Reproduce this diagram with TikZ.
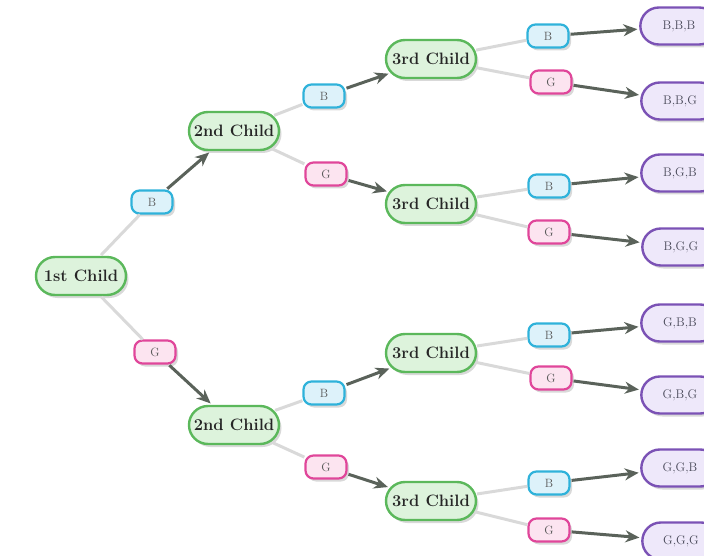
\documentclass[tikz,border=0pt]{standalone}
\usepackage{fontspec}
\usetikzlibrary{shapes.misc,shadows,arrows.meta}
\definecolor{gborder}{HTML}{5BB85B}
\definecolor{gfill}{HTML}{DDF3DC}
\definecolor{bborder}{HTML}{2FB2DA}
\definecolor{bfill}{HTML}{DDF2FA}
\definecolor{pborder}{HTML}{E0469A}
\definecolor{pfill}{HTML}{FCE4F0}
\definecolor{vborder}{HTML}{7B52B5}
\definecolor{vfill}{HTML}{EEE8FA}
\definecolor{arrowc}{HTML}{5A625A}
\definecolor{leafc}{HTML}{4A4A5A}
\tikzset{
  shad/.style={drop shadow={shadow xshift=2.5pt,shadow yshift=-3pt,opacity=0.3}},
  childbox/.style={rounded rectangle, draw=gborder, line width=2.4pt, fill=gfill, shad,
    minimum height=38pt, minimum width=96pt, inner xsep=3pt, text=black!85,
    font=\bfseries\fontsize{16.5}{16.5}\selectfont\addfontfeatures{LetterSpace=2}},
  bbox/.style={rectangle, rounded corners=8pt, draw=bborder, line width=2.2pt, fill=bfill, shad,
    minimum width=41pt, minimum height=23pt, font=\fontsize{12}{12}\selectfont, text=black!65},
  gbox/.style={bbox, draw=pborder, fill=pfill},
  leafbox/.style={rounded rectangle, draw=vborder, line width=2.4pt, fill=vfill, shad,
    minimum width=84pt, minimum height=37pt, font=\fontsize{12.5}{12.5}\selectfont, text=leafc},
  faint/.style={draw=black!15, line width=3pt, shorten <=1pt},
  arr/.style={draw=arrowc, line width=3pt, -{Stealth[length=14pt,width=12pt,inset=4.5pt]}, shorten <=1pt, shorten >=2pt}
}
\begin{document}
\begin{tikzpicture}[x=1pt,y=-1pt]
\useasboundingbox (0,0) rectangle (704,556);
% level nodes
\node[childbox] (c1) at (81,276) {1st Child};
\node[childbox] (c2a) at (234,131) {2nd Child};
\node[childbox] (c2b) at (234,425) {2nd Child};
\node[childbox] (c3a) at (431,59) {3rd Child};
\node[childbox] (c3b) at (431,204) {3rd Child};
\node[childbox] (c3c) at (431,353) {3rd Child};
\node[childbox] (c3d) at (431,501) {3rd Child};
% labels level 1
\node[bbox] (l1b) at (152,202) {B};
\node[gbox] (l1g) at (155,352) {G};
% labels level 2
\node[bbox] (l2ab) at (324,96) {B};
\node[gbox] (l2ag) at (326,174) {G};
\node[bbox] (l2bb) at (324,393) {B};
\node[gbox] (l2bg) at (326,467) {G};
% labels level 3
\node[bbox] (l3ab) at (548,36) {B};
\node[gbox] (l3ag) at (551,82) {G};
\node[bbox] (l3bb) at (549,186) {B};
\node[gbox] (l3bg) at (549,232) {G};
\node[bbox] (l3cb) at (549,335) {B};
\node[gbox] (l3cg) at (551,378) {G};
\node[bbox] (l3db) at (549,483) {B};
\node[gbox] (l3dg) at (549,530) {G};
% leaves
\node[leafbox] (bbb) at (679,26) {B,B,B};
\node[leafbox] (bbg) at (680,101) {B,B,G};
\node[leafbox] (bgb) at (680,173) {B,G,B};
\node[leafbox] (bgg) at (681,247) {B,G,G};
\node[leafbox] (gbb) at (680,323) {G,B,B};
\node[leafbox] (gbg) at (680,395) {G,B,G};
\node[leafbox] (ggb) at (680,468) {G,G,B};
\node[leafbox] (ggg) at (681,541) {G,G,G};
% connectors
\path[faint] (c1) -- (l1b);
\path[arr] (l1b) -- (c2a);
\path[faint] (c1) -- (l1g);
\path[arr] (l1g) -- (c2b);
\path[faint] (c2a) -- (l2ab);
\path[arr] (l2ab) -- (c3a);
\path[faint] (c2a) -- (l2ag);
\path[arr] (l2ag) -- (c3b);
\path[faint] (c2b) -- (l2bb);
\path[arr] (l2bb) -- (c3c);
\path[faint] (c2b) -- (l2bg);
\path[arr] (l2bg) -- (c3d);
\path[faint] (c3a) -- (l3ab);
\path[arr] (l3ab) -- (bbb);
\path[faint] (c3a) -- (l3ag);
\path[arr] (l3ag) -- (bbg);
\path[faint] (c3b) -- (l3bb);
\path[arr] (l3bb) -- (bgb);
\path[faint] (c3b) -- (l3bg);
\path[arr] (l3bg) -- (bgg);
\path[faint] (c3c) -- (l3cb);
\path[arr] (l3cb) -- (gbb);
\path[faint] (c3c) -- (l3cg);
\path[arr] (l3cg) -- (gbg);
\path[faint] (c3d) -- (l3db);
\path[arr] (l3db) -- (ggb);
\path[faint] (c3d) -- (l3dg);
\path[arr] (l3dg) -- (ggg);
\end{tikzpicture}
\end{document}
